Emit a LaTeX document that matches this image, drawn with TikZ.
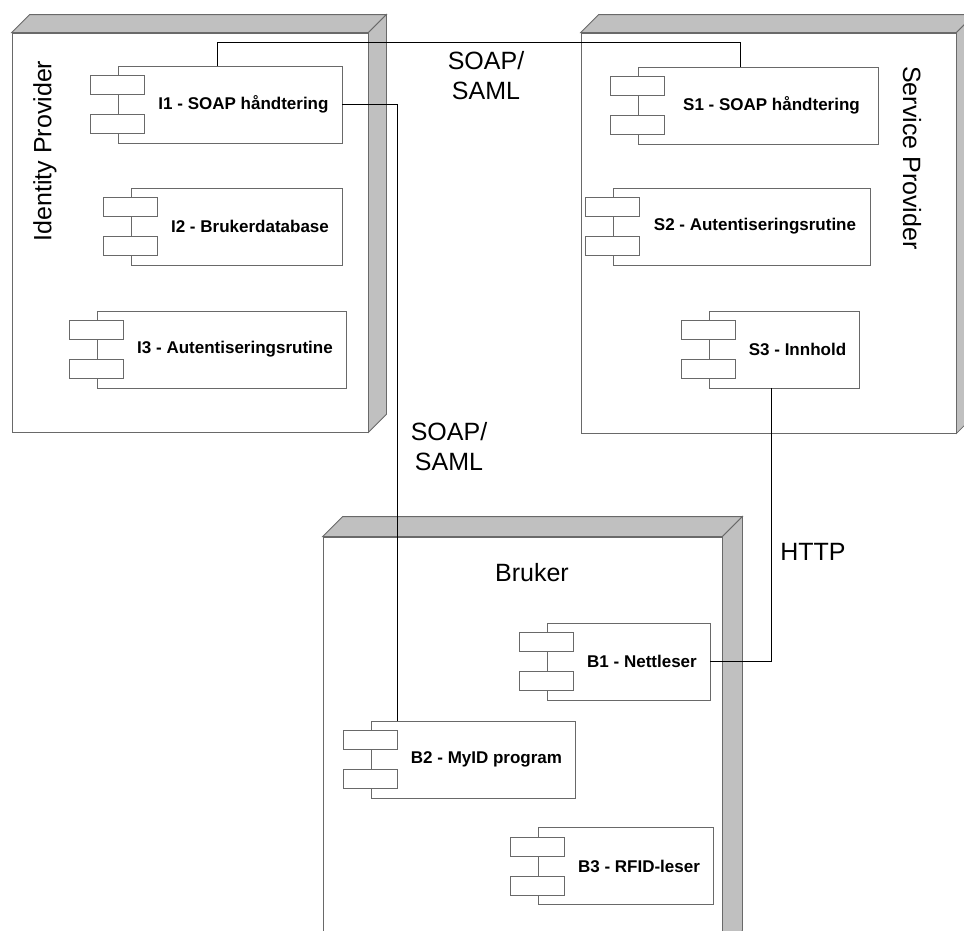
\documentclass[tikz,border=0pt]{standalone}
\usepackage{fontspec}
\setmainfont{Liberation Sans}
\usepackage{tikz}
\usetikzlibrary{positioning}
\definecolor{linegray}{RGB}{105,105,105}
\definecolor{facegray}{RGB}{192,192,192}

\begin{document}
\begin{tikzpicture}[x=1pt, y=-1pt,
    container/.style={rectangle, draw=linegray, line width=0.8pt, fill=white, inner sep=0pt},
    comp/.style={rectangle, draw=linegray, line width=0.8pt, fill=white, minimum height=77pt, font=\fontsize{17}{20}\selectfont\bfseries},
    tab/.style={draw=linegray, line width=0.8pt, fill=white},
    face/.style={draw=linegray, line width=0.8pt, fill=facegray},
    biglabel/.style={font=\fontsize{25}{30}\selectfont, align=center, inner sep=0pt},
    link/.style={draw=black, line width=1pt}
]

\useasboundingbox (0,0) rectangle (964,930);
\clip (0,0) rectangle (964,930);

% Nodes (containers)
\node[container, minimum width=356pt, minimum height=399pt] (idp) at (190,232.5) {};
\node[container, minimum width=375pt, minimum height=400pt] (sp) at (768.5,233) {};
\node[container, minimum width=399pt, minimum height=413pt] (bruker) at (522.5,743.5) {};

% 3D faces
\foreach \n/\d in {idp/18, sp/18, bruker/20} {
  \draw[face] (\n.north west) -- ++(\d,-\d) -- ([shift={(\d,-\d)}]\n.north east) -- (\n.north east) -- cycle;
  \draw[face] (\n.north east) -- ++(\d,-\d) -- ([shift={(\d,-\d)}]\n.south east) -- (\n.south east) -- cycle;
}

% Container labels
\node[biglabel, rotate=90] (idplabel) at (45,151) {Identity Provider};
\node[biglabel, rotate=-90] (splabel) at (912,158) {Service Provider};
\node[biglabel] (brukerlabel) at (532,573) {Bruker};

% Components
\node[comp, minimum width=224pt] (i1) at (230,104.5) {\hspace*{27pt}I1 - SOAP håndtering};
\node[comp, minimum width=211pt] (i2) at (236.5,226.5) {\hspace*{27pt}I2 - Brukerdatabase};
\node[comp, minimum width=249pt] (i3) at (221.5,349.5) {\hspace*{27pt}I3 - Autentiseringsrutine};
\node[comp, minimum width=240pt] (s1) at (758,105.5) {\hspace*{27pt}S1 - SOAP håndtering};
\node[comp, minimum width=257pt] (s2) at (741.5,226.5) {\hspace*{27pt}S2 - Autentiseringsrutine};
\node[comp, minimum width=150pt] (s3) at (784,349.5) {\hspace*{27pt}S3 - Innhold};
\node[comp, minimum width=163pt] (b1) at (628.5,661.5) {\hspace*{27pt}B1 - Nettleser};
\node[comp, minimum width=204pt] (b2) at (473,759.5) {\hspace*{27pt}B2 - MyID program};
\node[comp, minimum width=175pt] (b3) at (625.5,866) {\hspace*{27pt}B3 - RFID-leser};

% Component tabs
\foreach \c in {i1,i2,i3,s1,s2,s3,b1,b2,b3} {
  \draw[tab] ([shift={(-27,-29)}]\c.west) rectangle ++(54,19);
  \draw[tab] ([shift={(-27,10)}]\c.west) rectangle ++(54,19);
}

% Connections
\draw[link] ([xshift=-13pt]i1.north) -- ++(0,-23) -| ([xshift=-18pt]s1.north);
\draw[link] (i1.east) -| ([xshift=-76pt]b2.north);
\draw[link] ([xshift=-13pt]s3.south) |- (b1.east);

% Connection labels
\node[biglabel] (soaptop) at (486,76) {SOAP/\\SAML};
\node[biglabel] (soapmid) at (449,447) {SOAP/\\SAML};
\node[biglabel] (http) at (813,552) {HTTP};

\end{tikzpicture}
\end{document}
